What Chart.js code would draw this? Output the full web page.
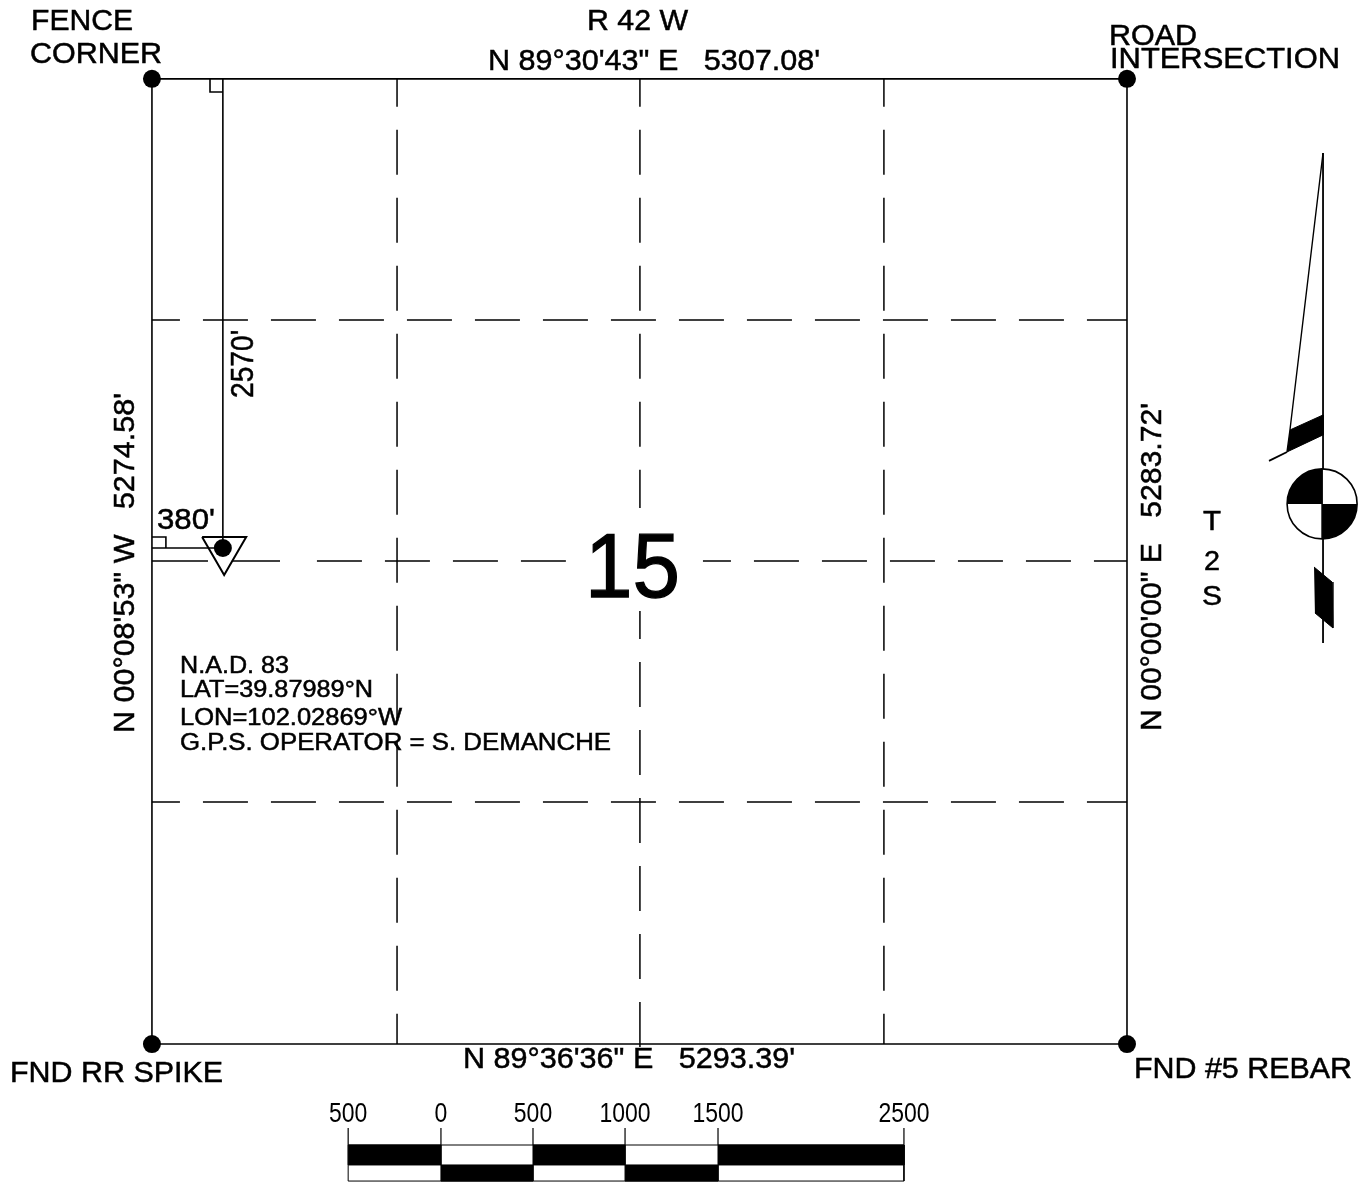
<!DOCTYPE html>
<html>
<head>
<meta charset="utf-8">
<title>Section 15 plat</title>
<script src="https://cdn.jsdelivr.net/npm/chart.js@4"></script>
<style>
  html, body { margin: 0; padding: 0; background: #fff; }
  canvas { display: block; }
</style>
</head>
<body>
<canvas id="plat" width="1364" height="1186"></canvas>
<script>
// everything is in feet, measured from the SW section corner
const sectionEast = 5307
const sectionNorth = 5275
const quarterX = [1334, 2656, 3984]
const quarterY = [3957, 2640, 1323]
const corners = [[0, sectionNorth], [sectionEast, sectionNorth], [0, 0], [sectionEast, 0]]
const well = [386, 2711]
const wellMarker = [[273, 2771], [513, 2771], [393, 2563], [273, 2771]]
const squareTop = [[316, sectionNorth], [316, 5203], [386, 5203]]
const squareLeft = [[0, 2771], [76, 2771], [76, 2711]]

const needleLine = [[6374, 4870], [6374, 2192]]
const needleEdge = [[6374, 4870], [6194, 3356], [6178, 3236]]
const needleBand = [[6194, 3356], [6374, 3438], [6374, 3329], [6178, 3236]]
const needleTail = [[6178, 3236], [6080, 3187]]
const needleLower = [[6325, 2607], [6423, 2525], [6428, 2274], [6330, 2356]]
const compassCenter = [6369, 2952]

const barTicks = [1068, 1573, 2074, 2575, 3081, 4093]
const barLabels = ['500', '0', '500', '1000', '1500', '2500']
const barTop = -552
const barMid = -661
const barBottom = -749
const tickTop = -459

const textLabels = [
  ['FENCE', 31, 30, 102, 29],
  ['CORNER', 30, 63, 132, 29],
  ['R 42 W', 587, 30, 101, 29],
  ['N 89°30\'43" E   5307.08\'', 488, 70, 332, 30],
  ['ROAD', 1109, 45, 88, 29],
  ['INTERSECTION', 1110, 68, 230, 29],
  ['380\'', 157, 529, 58, 30],
  ['15', 585, 597, 95, 90],
  ['N.A.D. 83', 180, 673, 109, 23],
  ['LAT=39.87989°N', 180, 697, 193, 23],
  ['LON=102.02869°W', 180, 725, 222, 23],
  ['G.P.S. OPERATOR = S. DEMANCHE', 180, 750, 431, 23],
  ['T', 1203, 530, 18, 27],
  ['2', 1204, 570, 16, 27],
  ['S', 1202, 605, 20, 27],
  ['N 89°36\'36" E   5293.39\'', 463, 1068, 332, 30],
  ['FND RR SPIKE', 10, 1082, 213, 29],
  ['FND #5 REBAR', 1134, 1078, 218, 29]
]
const sideLabels = [
  ['N 00°08\'53" W   5274.58\'', 134, 733, 340, 30],
  ['2570\'', 253, 398, 68, 31],
  ['N 00°00\'00" E   5283.72\'', 1161, 731, 328, 30]
]

const toPts = list => list.map(p => ({ x: p[0], y: p[1] }))
const rect = (x0, x1, y0, y1) => [[x0, y0], [x1, y0], [x1, y1], [x0, y1], [x0, y0]]

function line(list, width, dash) {
  return { data: toPts(list), showLine: true, pointRadius: 0, borderColor: '#000',
    borderWidth: width || 1.6, borderDash: dash || [], borderDashOffset: 17, tension: 0, fill: false }
}
function solid(list) {
  return { data: toPts(list), showLine: true, pointRadius: 0, borderColor: '#000',
    borderWidth: 1, backgroundColor: '#000', tension: 0, fill: 'shape' }
}

const dash = [45, 23]
let datasets = []

// section outline
datasets.push(line([corners[0], corners[1], corners[3], corners[2], corners[0]]))
// quarter lines
datasets.push(line([[quarterX[0], sectionNorth], [quarterX[0], 0]], 1.5, dash))
datasets.push(line([[quarterX[1], sectionNorth], [quarterX[1], 2930]], 1.5, dash))
datasets.push(line([[quarterX[1], 2367], [quarterX[1], -90]], 1.5, dash))
datasets.push(line([[quarterX[2], sectionNorth], [quarterX[2], 0]], 1.5, dash))
datasets.push(line([[0, quarterY[0]], [sectionEast, quarterY[0]]], 1.5, dash))
// middle line runs unbroken beside the well, stops at the big number
datasets.push(line([[0, quarterY[1]], [305, quarterY[1]]], 1.5))
datasets.push(line([[435, quarterY[1]], [697, quarterY[1]]], 1.5))
let midLeft = line([[898, quarterY[1]], [2253, quarterY[1]]], 1.5, dash)
midLeft.borderDashOffset = 0
datasets.push(midLeft)
datasets.push(line([[2999, quarterY[1]], [sectionEast, quarterY[1]]], 1.5, dash))
datasets.push(line([[0, quarterY[2]], [sectionEast, quarterY[2]]], 1.5, dash))
// well ties
datasets.push(line([[well[0], sectionNorth], well]))
datasets.push(line([[0, well[1]], well]))
datasets.push(line(squareTop))
datasets.push(line(squareLeft))
datasets.push(line(wellMarker, 2))
// north arrow
datasets.push(line(needleLine, 1.8))
datasets.push(line(needleEdge, 1.4))
datasets.push(line(needleTail, 1.8))
datasets.push(solid(needleBand))
datasets.push(solid(needleLower))
// scale bar
barTicks.forEach(t => datasets.push(line([[t, tickTop], [t, barTop]], 1.2)))
datasets.push(line(rect(barTicks[0], barTicks[5], barTop, barBottom), 1))
barTicks.slice(0, 5).forEach((t, i) => {
  if (i % 2 == 0) datasets.push(solid(rect(t, barTicks[i + 1], barTop, barMid)))
  else datasets.push(solid(rect(t, barTicks[i + 1], barMid, barBottom)))
})
// corners and well dot
datasets.push({ data: toPts(corners), pointRadius: 9, pointBackgroundColor: '#000', pointBorderWidth: 0 })
datasets.push({ data: toPts([well]), pointRadius: 9, pointBackgroundColor: '#000', pointBorderWidth: 0 })

function putText(ctx, item) {
  ctx.font = item[4] + 'px "Liberation Sans"'
  ctx.scale(item[3] / ctx.measureText(item[0]).width, 1)
  ctx.fillText(item[0], 0, 0)
  // the scan is heavier than the plain font
  ctx.lineWidth = item[4] > 50 ? 1.3 : 0.5
  ctx.strokeText(item[0], 0, 0)
}

const drawExtras = {
  id: 'drawExtras',
  afterDatasetsDraw(chart) {
    const ctx = chart.ctx, xs = chart.scales.x, ys = chart.scales.y
    ctx.save()
    ctx.fillStyle = '#000'
    ctx.textBaseline = 'alphabetic'

    // compass disc
    const cx = xs.getPixelForValue(compassCenter[0]), cy = ys.getPixelForValue(compassCenter[1])
    ctx.beginPath(); ctx.arc(cx, cy, 35, 0, Math.PI * 2)
    ctx.fillStyle = '#fff'; ctx.fill()
    ctx.lineWidth = 1.6; ctx.strokeStyle = '#000'; ctx.stroke()
    ctx.fillStyle = '#000'
    ctx.beginPath(); ctx.moveTo(cx, cy); ctx.arc(cx, cy, 35, Math.PI, Math.PI * 1.5); ctx.closePath(); ctx.fill()
    ctx.beginPath(); ctx.moveTo(cx, cy); ctx.arc(cx, cy, 35, 0, Math.PI * 0.5); ctx.closePath(); ctx.fill()
    ctx.beginPath(); ctx.moveTo(cx, cy - 35); ctx.lineTo(cx, cy + 35); ctx.stroke()

    textLabels.forEach(item => {
      ctx.save(); ctx.translate(item[1], item[2]); putText(ctx, item); ctx.restore()
    })
    sideLabels.forEach(item => {
      ctx.save(); ctx.translate(item[1], item[2]); ctx.rotate(-Math.PI / 2); putText(ctx, item); ctx.restore()
    })

    // scale bar numbers, narrow lettering
    ctx.font = '28px "Liberation Sans"'
    ctx.textAlign = 'center'
    barLabels.forEach((txt, i) => {
      ctx.save()
      ctx.translate(xs.getPixelForValue(barTicks[i]), ys.getPixelForValue(tickTop) - 6)
      ctx.scale(0.82, 1)
      ctx.fillText(txt, 0, 0)
      ctx.restore()
    })
    ctx.restore()
  }
}

const platChart = new Chart(document.getElementById('plat'), {
  type: 'scatter',
  data: { datasets: datasets },
  options: {
    responsive: false,
    animation: false,
    devicePixelRatio: 1,
    layout: { padding: 0, autoPadding: false },
    plugins: { legend: { display: false }, tooltip: { enabled: false } },
    scales: {
      x: { display: false, min: -827, max: 6597 },
      y: { display: false, min: -776, max: 5706 }
    }
  },
  plugins: [drawExtras]
})
</script>
</body>
</html>
